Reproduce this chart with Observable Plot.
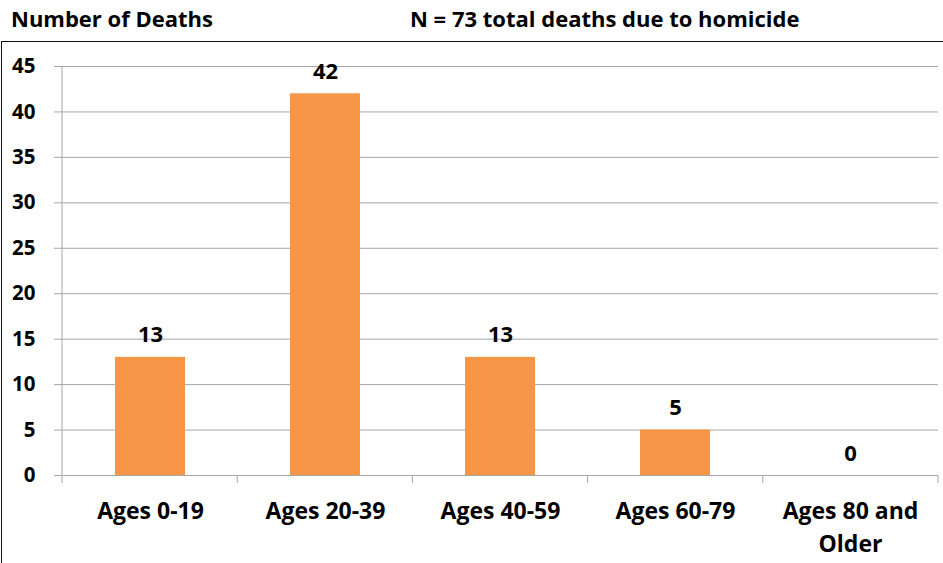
<!DOCTYPE html>
<html><head><meta charset="utf-8">
<script src="https://cdn.jsdelivr.net/npm/d3@7"></script>
<script src="https://cdn.jsdelivr.net/npm/@observablehq/plot@0.6"></script>
<style>
body{margin:0;background:#fff;font-family:"Open Sans",Lato,sans-serif;}
#wrap{position:relative;width:943px;height:563px;overflow:hidden;background:#fff;}
.ttl{position:absolute;top:3px;font-weight:bold;font-size:22px;line-height:30px;color:#000;white-space:nowrap;}
#box{position:absolute;left:1px;top:41px;width:960px;height:540px;border-top:1.5px solid #111;border-left:1.5px solid #111;}
#chart{position:absolute;left:0;top:42px;}
</style></head>
<body>
<div id="wrap">
  <div class="ttl" id="t1" style="left:11px">Number of Deaths</div>
  <div class="ttl" id="t2" style="left:410px">N = 73 total deaths due to homicide</div>
  <div id="box"></div>
  <div id="chart"></div>
</div>
<script>
const categories = ["Ages 0-19", "Ages 20-39", "Ages 40-59", "Ages 60-79", "Ages 80 and\nOlder"];
const deaths = [13, 42, 13, 5, 0];
const yTicks = [0, 5, 10, 15, 20, 25, 30, 35, 40, 45];
const yMax = 45;

const data = categories.map((c, i) => ({category: c, value: deaths[i]}));
const gray = "#a6a6a6";

const frameMark = (index, scales, values, dims, context) => {
  const g = d3.select(context.document.createElementNS("http://www.w3.org/2000/svg", "g"));
  const left = dims.marginLeft, right = dims.width - dims.marginRight;
  const y0 = scales.y(0), yTop = scales.y(yMax);
  const n = categories.length;
  g.append("line").attr("x1", left).attr("x2", left).attr("y1", yTop).attr("y2", y0 + 8)
    .attr("stroke", gray).attr("stroke-width", 1);
  for (let i = 1; i <= n; i++) {
    const x = left + (right - left) * i / n;
    g.append("line").attr("x1", x).attr("x2", x).attr("y1", y0).attr("y2", y0 + 8)
      .attr("stroke", gray).attr("stroke-width", 1);
  }
  return g.node();
};

const chart = Plot.plot({
  width: 943,
  height: 521,
  marginLeft: 62,
  marginRight: 5,
  marginTop: 24,
  marginBottom: 88,
  style: {fontFamily: "'Open Sans', Lato, sans-serif", fontSize: "20.5px", fontWeight: "bold", color: "#000", background: "transparent"},
  x: {domain: categories, paddingInner: 0.6, paddingOuter: 0.3, align: 0.5},
  y: {domain: [0, yMax]},
  marks: [
    Plot.gridY(yTicks, {stroke: gray, strokeOpacity: 1}),
    Plot.axisY(yTicks, {tickSize: 8, tickPadding: 19, stroke: gray, fill: "#000", label: null}),
    Plot.barY(data, {x: "category", y: "value", fill: "#F79646"}),
    Plot.axisX({tickSize: 0, tickPadding: 20, label: null, lineHeight: 1.43, fill: "#000", fontSize: 23}),
    Plot.text(data, {x: "category", y: "value", text: d => String(d.value), dy: -22, fill: "#000", fontSize: 22}),
    frameMark
  ]
});
document.getElementById("chart").appendChild(chart);
</script>
</body></html>
